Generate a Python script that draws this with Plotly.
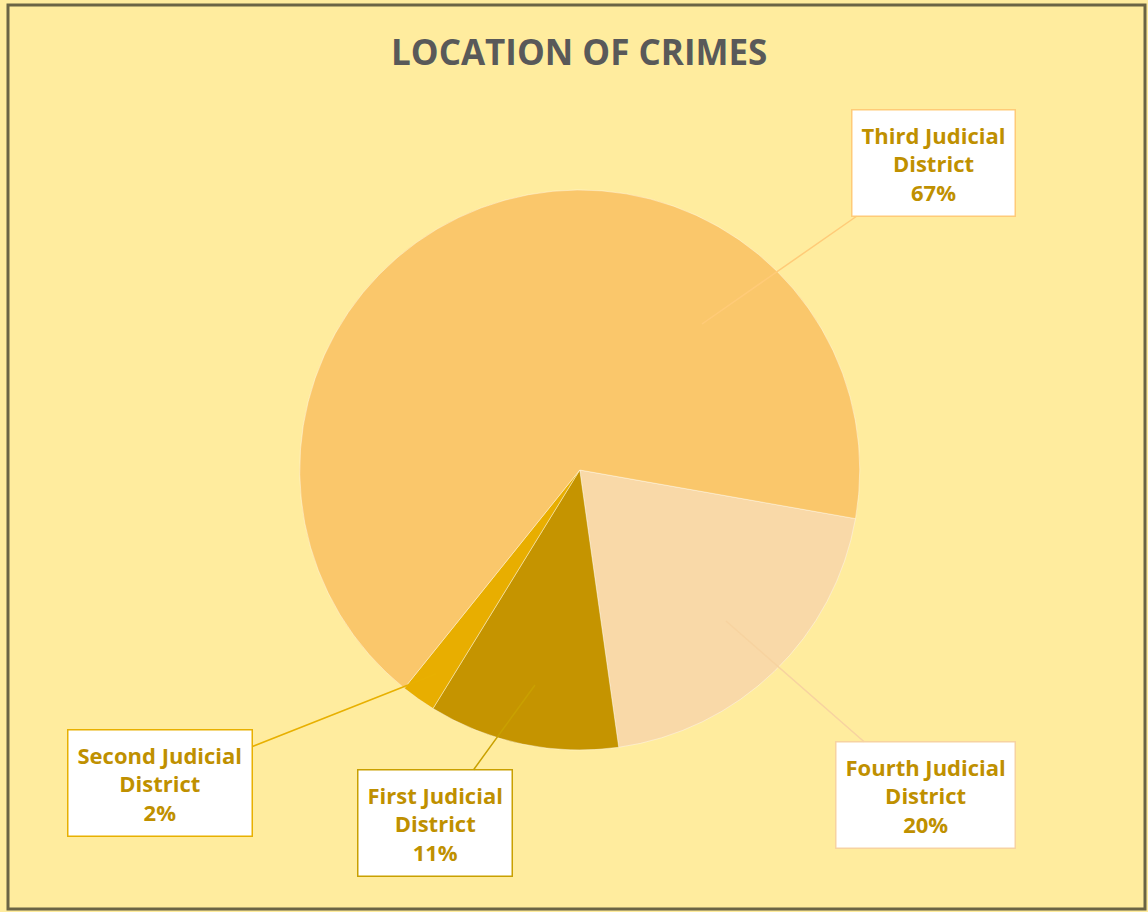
import plotly.graph_objects as go

# Data
districts = ["Fourth Judicial District", "First Judicial District",
             "Second Judicial District", "Third Judicial District"]
short_labels = ["Fourth Judicial<br>District", "First Judicial<br>District",
                "Second Judicial<br>District", "Third Judicial<br>District"]
shares = [20, 11, 2, 67]
colors = ["#F9D9A8", "#C59400", "#E8AE00", "#FAC76B"]
border_colors = ["#F7D3A0", "#C9A000", "#E8B000", "#FFCB78"]

W, H = 1148, 912
fig = go.Figure()

fig.add_trace(go.Pie(
    labels=districts,
    values=shares,
    sort=False,
    direction="clockwise",
    rotation=100,
    marker=dict(colors=colors, line=dict(color="rgba(255,255,255,0.4)", width=1)),
    textinfo="none",
    hoverinfo="label+percent",
    showlegend=False,
    domain=dict(x=[0.02, 0.99], y=[0.1776, 0.7917]),
))

# callout placement (pixel space)
box_centers = [(925, 795), (435, 823), (160, 783), (933, 163)]
tips = [(726, 621), (535, 685), (436, 674), (702, 324)]

for lab, val, bc, (bx, by), (tx, ty) in zip(short_labels, shares, border_colors, box_centers, tips):
    fig.add_annotation(
        x=tx / W, y=1 - ty / H, xref="paper", yref="paper",
        ax=bx - tx, ay=by - ty, axref="pixel", ayref="pixel",
        text=f"<b>{lab}<br>{val}%</b>",
        showarrow=True, arrowhead=0, arrowwidth=1.5, arrowcolor=bc,
        standoff=0, startstandoff=0,
        bgcolor="white", bordercolor=bc, borderwidth=1.5, borderpad=9,
        font=dict(family="Open Sans, Lato, sans-serif", size=22, color="#BF9000"),
        align="center",
    )

fig.add_annotation(
    x=579 / W, y=1 - 52 / H, xref="paper", yref="paper",
    xanchor="center", yanchor="middle",
    text="<b>LOCATION OF CRIMES</b>", showarrow=False,
    font=dict(family="Open Sans, Lato, sans-serif", size=35, color="#595959"),
)

fig.add_shape(type="rect", xref="paper", yref="paper",
              x0=8 / W, y0=1 - 909 / H, x1=1145 / W, y1=1 - 5 / H,
              line=dict(color="#6B6445", width=3))

fig.update_layout(
    width=W, height=H,
    margin=dict(l=0, r=0, t=0, b=0),
    paper_bgcolor="#FFEC9E",
    plot_bgcolor="#FFEC9E",
)

fig.write_html("out.html", config={"displayModeBar": False},
               post_script="document.body.style.margin='0';document.body.style.background='#FFEC9E';")
